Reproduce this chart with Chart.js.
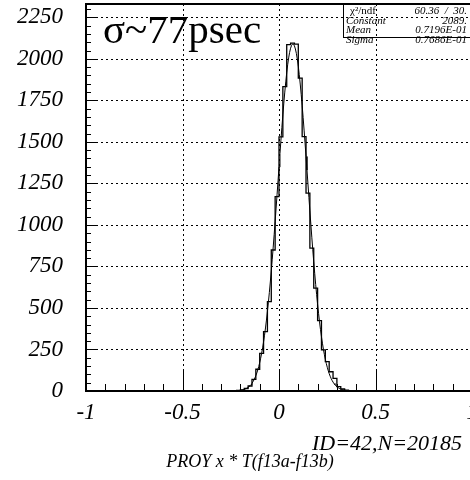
<!DOCTYPE html>
<html>
<head>
<meta charset="utf-8">
<script src="https://cdn.jsdelivr.net/npm/chart.js@4/dist/chart.umd.min.js"></script>
<style>
  html, body { margin: 0; padding: 0; background: #fff; overflow: hidden; }
  #wrap { width: 490px; height: 480px; }
</style>
</head>
<body>
<div id="wrap"><canvas id="histo" width="490" height="480"></canvas></div>
<script>
// lower edge of each filled bin, bin width 0.02
const binLow = [-0.24, -0.22, -0.20, -0.18, -0.16, -0.14, -0.12, -0.10, -0.08, -0.06, -0.04, -0.02,
                0.00, 0.02, 0.04, 0.06, 0.08, 0.10, 0.12, 0.14, 0.16, 0.18, 0.20, 0.22,
                0.24, 0.26, 0.28, 0.30, 0.32, 0.34, 0.36, 0.38];
const counts = [1, 3, 6, 15, 30, 70, 131, 227, 357, 538, 849, 1170,
                1530, 1833, 2085, 2095, 2088, 1884, 1532, 1191, 860, 619, 424, 247,
                177, 116, 76, 26, 12, 5, 2, 1];
const binWidth = 0.02;

const xTicks = [-1, -0.5, 0, 0.5, 1];
const yTicks = [0, 250, 500, 750, 1000, 1250, 1500, 1750, 2000, 2250];

// gaussian fit result
const fitChi2 = 60.36, fitNdf = 30;
const fitConstant = 2089, fitMean = 0.07196, fitSigma = 0.07686;
const fitRange = [-0.25, 0.40];

const serif = '"Liberation Serif", "Times New Roman", serif';

function pawExp(v) {
  const e = Math.floor(Math.log10(Math.abs(v))) + 1;
  return (v / Math.pow(10, e)).toFixed(4) + 'E' + (e < 0 ? '-' : '+') + String(Math.abs(e)).padStart(2, '0');
}

// histogram outline as a stepped line
const histPts = [{ x: -1, y: 0 }];
binLow.forEach((lo, i) => histPts.push({ x: lo, y: counts[i] }));
histPts.push({ x: binLow[binLow.length - 1] + binWidth, y: 0 });
histPts.push({ x: 1, y: 0 });

const fitPts = [];
for (let i = 0; i <= 130; i++) {
  const x = fitRange[0] + (fitRange[1] - fitRange[0]) * i / 130;
  const t = (x - fitMean) / fitSigma;
  fitPts.push({ x: x, y: fitConstant * Math.exp(-0.5 * t * t) });
}

// frame, dotted grid and inward ticks
const pawFrame = {
  id: 'pawFrame',
  beforeDatasetsDraw(chart) {
    const { ctx, chartArea: a, scales: { x, y } } = chart;
    const line = (x1, y1, x2, y2) => { ctx.beginPath(); ctx.moveTo(x1, y1); ctx.lineTo(x2, y2); ctx.stroke(); };
    ctx.save();
    ctx.strokeStyle = '#000';
    ctx.lineWidth = 1;
    ctx.setLineDash([2, 3]);
    yTicks.forEach(v => {
      if (v === 0) return;
      const py = Math.round(y.getPixelForValue(v)) + 0.5;
      line(a.left, py, a.right, py);
    });
    xTicks.forEach(v => {
      if (v === -1 || v === 1) return;
      const px = Math.round(x.getPixelForValue(v)) + 0.5;
      line(px, a.top, px, a.bottom);
    });
    ctx.setLineDash([]);
    for (let k = 0; k * 50 <= y.max; k++) {
      const py = Math.round(y.getPixelForValue(k * 50)) + 0.5;
      line(a.left, py, a.left + (k % 5 === 0 ? 10 : 5), py);
    }
    for (let k = -10; k <= 10; k++) {
      const px = Math.round(x.getPixelForValue(k / 10)) + 0.5;
      line(px, a.bottom, px, a.bottom - (k % 5 === 0 ? 20 : 7));
    }
    ctx.lineWidth = 2;
    ctx.strokeRect(a.left, a.top, a.right - a.left, a.bottom - a.top);
    ctx.restore();
  },
  afterDraw(chart) {
    const { ctx, chartArea: a } = chart;
    ctx.save();
    ctx.fillStyle = '#000';
    ctx.textBaseline = 'alphabetic';

    ctx.font = '41px ' + serif;
    ctx.textAlign = 'left';
    ctx.fillText('σ~77psec', 103, 43);

    // stats box (not filled, grid shows through)
    const bx = 343, by = a.top, bw = 140, bh = 33;
    ctx.strokeStyle = '#000';
    ctx.lineWidth = 1;
    ctx.strokeRect(bx + 0.5, by + 0.5, bw, bh);
    const names = ['χ²/ndf', 'Constant', 'Mean', 'Sigma'];
    const vals = [fitChi2.toFixed(2) + '  /  ' + fitNdf + '.', fitConstant + '.', pawExp(fitMean), pawExp(fitSigma)];
    names.forEach((n, i) => {
      const ty = by + 10 + i * 9.7;
      ctx.font = (i === 0 ? '' : 'italic ') + '11px ' + serif;
      ctx.textAlign = 'left';
      ctx.fillText(n, i === 0 ? bx + 7 : bx + 3, ty);
      ctx.font = 'italic 11px ' + serif;
      ctx.textAlign = 'right';
      ctx.fillText(vals[i], 467, ty);
    });

    ctx.font = 'italic 22px ' + serif;
    ctx.textAlign = 'right';
    ctx.fillText('ID=42,N=20185', 462, 450);
    ctx.font = 'italic 18px ' + serif;
    ctx.textAlign = 'center';
    ctx.fillText('PROY x * T(f13a-f13b)', 250, 467);
    ctx.restore();
  }
};

// labels sit outside the frame, so the scales need no extra room for them
const noLabelPad = s => { s.paddingTop = 0; s.paddingBottom = 0; s.paddingLeft = 0; s.paddingRight = 0; };

new Chart(document.getElementById('histo'), {
  type: 'line',
  data: {
    datasets: [
      { data: histPts, stepped: 'before', borderColor: '#000', borderWidth: 1.3, pointRadius: 0, fill: false },
      { data: fitPts, borderColor: '#000', borderWidth: 1, pointRadius: 0, tension: 0, fill: false }
    ]
  },
  options: {
    responsive: false,
    animation: false,
    layout: { autoPadding: false, padding: { left: 0, top: 4, right: 18, bottom: 0 } },
    plugins: { legend: { display: false }, tooltip: { enabled: false } },
    scales: {
      x: {
        type: 'linear', min: -1, max: 1,
        afterBuildTicks: s => { s.ticks = xTicks.map(v => ({ value: v })); },
        afterFit: s => { s.height = 89; noLabelPad(s); },
        grid: { display: false, drawTicks: false },
        border: { display: false },
        ticks: { color: '#000', padding: 8, maxRotation: 0, autoSkip: false,
                 font: { family: serif, style: 'italic', size: 23 },
                 callback: v => String(v) }
      },
      y: {
        type: 'linear', min: 0, max: 2330,
        afterBuildTicks: s => { s.ticks = yTicks.map(v => ({ value: v })); },
        afterFit: s => { s.width = 86; noLabelPad(s); },
        grid: { display: false, drawTicks: false },
        border: { display: false },
        ticks: { color: '#000', padding: 23, autoSkip: false,
                 font: { family: serif, style: 'italic', size: 23 },
                 callback: v => String(v) }
      }
    }
  },
  plugins: [pawFrame]
});
</script>
</body>
</html>
